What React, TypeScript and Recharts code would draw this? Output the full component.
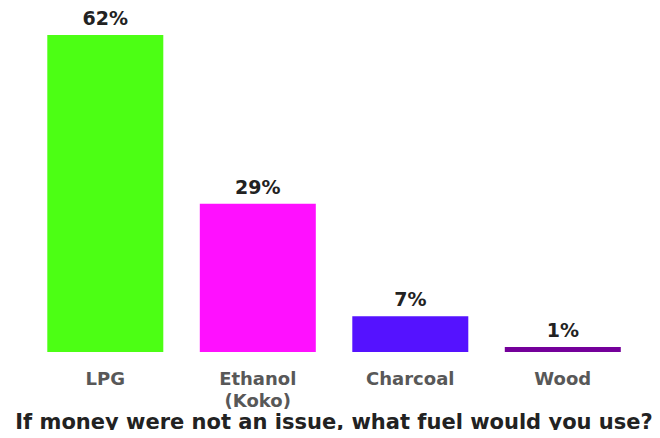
import { BarChart, Bar, XAxis, YAxis, Cell, LabelList } from 'recharts';

const fuels = ['LPG', 'Ethanol\n(Koko)', 'Charcoal', 'Wood'];
const shares = [62, 29, 7, 1];
const barColors = ['#4cff14', '#ff10ff', '#5512ff', '#74009a'];
const title = 'If money were not an issue, what fuel would you use?';

const data = fuels.map((f, i) => ({ fuel: f, share: shares[i] }));

const FONT = '"DejaVu Sans", Verdana, sans-serif';

const FuelTick = ({ x, y, payload }: any) => {
  const lines = String(payload.value).split('\n');
  return (
    <text x={x} y={y} textAnchor="middle" fill="#585858" fontSize={18} fontWeight={700} fontFamily={FONT}>
      {lines.map((l, i) => (
        <tspan key={i} x={x} dy={i === 0 ? 25 : 22}>{l}</tspan>
      ))}
    </text>
  );
};

export default function App() {
  return (
    <div style={{ margin: -8, width: 660, height: 438, background: '#fff' }}>
      <BarChart
        width={660}
        height={438}
        data={data}
        margin={{ top: 35, right: 21, left: 29, bottom: 0 }}
        barCategoryGap="12%"
      >
        <YAxis hide domain={[0, 62]} />
        <XAxis
          dataKey="fuel"
          axisLine={false}
          tickLine={false}
          height={86}
          interval={0}
          tick={<FuelTick />}
          label={{
            value: title,
            position: 'insideBottom',
            offset: 9,
            fill: '#222',
            fontSize: 21,
            fontWeight: 700,
            fontFamily: FONT,
          }}
        />
        <Bar dataKey="share" isAnimationActive={false}>
          {data.map((d, i) => (
            <Cell key={d.fuel} fill={barColors[i]} />
          ))}
          <LabelList
            dataKey="share"
            position="top"
            offset={10}
            formatter={(v: any) => `${v}%`}
            fill="#222"
            fontSize={19}
            fontWeight={700}
            fontFamily={FONT}
          />
        </Bar>
      </BarChart>
    </div>
  );
}
